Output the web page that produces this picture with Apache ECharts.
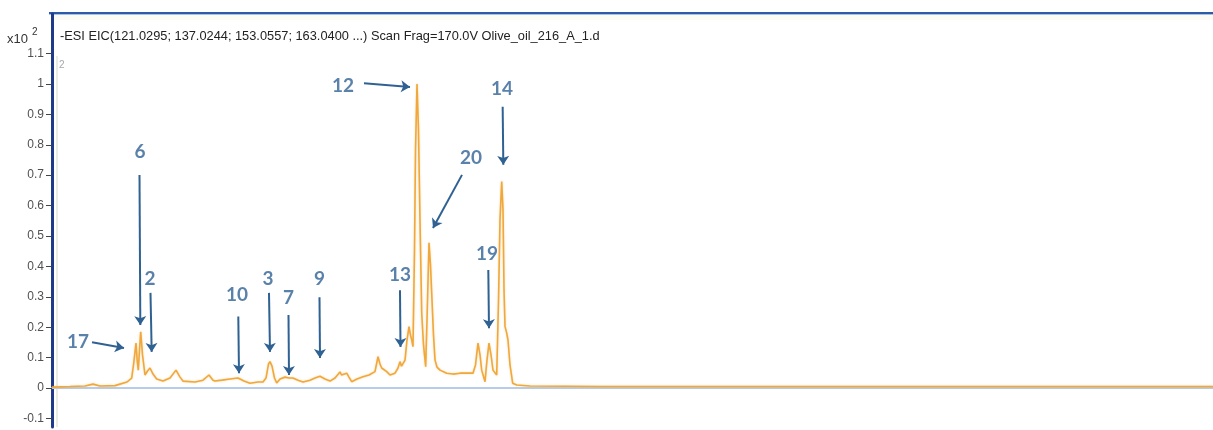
<!DOCTYPE html>
<html>
<head>
<meta charset="utf-8">
<title>EIC Olive_oil_216_A_1</title>
<script src="https://cdn.jsdelivr.net/npm/echarts@6/dist/echarts.min.js"></script>
<style>
  html, body { margin: 0; padding: 0; background: #ffffff; }
  #chart { width: 1213px; height: 430px; }
</style>
</head>
<body>
<div id="chart"></div>
<script>
// Extracted ion chromatogram: acquisition time (min) and counts (x10^2)
const rtMin = [
  0.000, 0.465, 0.853, 1.059, 1.240, 1.628, 1.938, 2.059, 2.106, 2.171,
  2.204, 2.230, 2.261, 2.292, 2.339, 2.403, 2.468, 2.532, 2.610, 2.705,
  2.868, 3.049, 3.204, 3.308, 3.385, 3.695, 3.902, 4.057, 4.160, 4.212,
  4.393, 4.600, 4.806, 4.961, 5.116, 5.323, 5.452, 5.530, 5.594, 5.633,
  5.685, 5.749, 5.806, 5.892, 6.021, 6.124, 6.227, 6.357, 6.486, 6.667,
  6.796, 6.925, 7.054, 7.184, 7.313, 7.442, 7.481, 7.519, 7.615, 7.674,
  7.744, 7.881, 8.036, 8.191, 8.346, 8.424, 8.476, 8.519, 8.649, 8.734,
  8.863, 8.941, 8.992, 9.031, 9.070, 9.122, 9.173, 9.225, 9.264, 9.295,
  9.328, 9.367, 9.393, 9.432, 9.470, 9.509, 9.553, 9.600, 9.656, 9.690,
  9.742, 9.780, 9.811, 9.858, 9.897, 9.948, 10.026, 10.199, 10.362, 10.543,
  10.724, 10.879, 10.943, 11.008, 11.060, 11.103, 11.189, 11.240, 11.292, 11.344,
  11.395, 11.491, 11.538, 11.576, 11.620, 11.654, 11.680, 11.706, 11.744, 11.783,
  11.835, 11.904, 12.008, 12.352, 14.160, 19.328, 24.496, 30.000
];
const intensity = [
  0.003, 0.005, 0.007, 0.013, 0.007, 0.008, 0.020, 0.033, 0.076, 0.148,
  0.086, 0.059, 0.125, 0.185, 0.109, 0.043, 0.056, 0.066, 0.046, 0.030,
  0.023, 0.033, 0.059, 0.036, 0.023, 0.020, 0.026, 0.043, 0.026, 0.023,
  0.026, 0.030, 0.033, 0.023, 0.016, 0.020, 0.020, 0.033, 0.079, 0.087,
  0.072, 0.033, 0.017, 0.030, 0.036, 0.033, 0.033, 0.026, 0.020, 0.026,
  0.033, 0.039, 0.030, 0.023, 0.033, 0.053, 0.043, 0.037, 0.049, 0.036,
  0.021, 0.030, 0.037, 0.043, 0.054, 0.103, 0.079, 0.066, 0.054, 0.043,
  0.049, 0.066, 0.087, 0.072, 0.066, 0.092, 0.158, 0.202, 0.174, 0.158,
  0.136, 0.454, 0.783, 1.000, 0.849, 0.553, 0.247, 0.141, 0.070, 0.224,
  0.478, 0.405, 0.313, 0.174, 0.092, 0.069, 0.059, 0.049, 0.046, 0.049,
  0.049, 0.049, 0.076, 0.148, 0.109, 0.059, 0.021, 0.092, 0.148, 0.109,
  0.059, 0.043, 0.289, 0.553, 0.679, 0.586, 0.322, 0.202, 0.184, 0.158,
  0.076, 0.016, 0.010, 0.007, 0.005, 0.005, 0.005, 0.005
];

// Y tick labels (x10^2)
const yTicks = [-0.1, 0, 0.1, 0.2, 0.3, 0.4, 0.5, 0.6, 0.7, 0.8, 0.9, 1, 1.1];

// Compound numbers, where each number sits and where its arrow runs (time, counts)
const peakIds   = ['17', '6', '2', '10', '3', '7', '9', '13', '12', '20', '19', '14'];
const labelAt   = [[0.672, 0.151], [2.274, 0.776], [2.532, 0.359], [4.780, 0.306],
                   [5.581, 0.359], [6.111, 0.296], [6.912, 0.359], [8.992, 0.372],
                   [7.519, 0.993], [10.827, 0.757], [11.240, 0.441], [11.628, 0.984]];
const arrowFrom = [[1.034, 0.151], [2.261, 0.701], [2.545, 0.313], [4.814, 0.235],
                   [5.607, 0.313], [6.111, 0.240], [6.912, 0.299], [8.992, 0.322],
                   [8.062, 1.002], [10.594, 0.701], [11.274, 0.388], [11.645, 0.925]];
const arrowTo   = [[1.860, 0.132], [2.282, 0.207], [2.576, 0.119], [4.832, 0.049],
                   [5.633, 0.119], [6.124, 0.043], [6.925, 0.099], [9.005, 0.135],
                   [9.251, 0.990], [9.845, 0.526], [11.292, 0.197], [11.662, 0.734]];

const traceTitle = '-ESI EIC(121.0295; 137.0244; 153.0557; 163.0400 ...) Scan Frag=170.0V Olive_oil_216_A_1.d';

const annotBlue = '#2f6193';
const traceData = rtMin.map((t, i) => [t, intensity[i]]);

const chart = echarts.init(document.getElementById('chart'), null, { renderer: 'canvas' });

chart.setOption({
  animation: false,
  backgroundColor: '#ffffff',
  grid: { left: 52, right: 0, top: 14, bottom: 3, containLabel: false },
  xAxis: {
    type: 'value',
    min: 0,
    max: 30,
    axisLine: { show: true, lineStyle: { color: '#b7cce8', width: 2 } },
    axisTick: { show: false },
    axisLabel: { show: false },
    splitLine: { show: false }
  },
  yAxis: {
    type: 'value',
    min: -0.128,
    max: 1.230,
    axisLine: { show: true, onZero: false, lineStyle: { color: '#1f3a88', width: 3 } },
    axisTick: { show: true, length: 6, customValues: yTicks, lineStyle: { color: '#444', width: 1 } },
    axisLabel: {
      show: true,
      customValues: yTicks,
      margin: 8,
      color: '#505050',
      fontFamily: 'Liberation Sans, Arial, sans-serif',
      fontSize: 12
    },
    splitLine: { show: false }
  },
  graphic: [
    // frame: top border with a soft inner edge
    { type: 'rect', silent: true, shape: { x: 49, y: 12, width: 1164, height: 2 }, style: { fill: '#2c5aa6' } },
    { type: 'rect', silent: true, shape: { x: 49, y: 14, width: 1164, height: 1 }, style: { fill: '#a9c1e6' } },
    { type: 'rect', silent: true, shape: { x: 54, y: 15, width: 1159, height: 5 }, style: { fill: '#fbfbf3' } },
    // light inner frame line right of the axis
    { type: 'line', silent: true, shape: { x1: 57, y1: 56, x2: 57, y2: 427 }, style: { stroke: '#d3dbcd', lineWidth: 1 } },
    // scale factor
    { type: 'text', silent: true, left: 7, top: 33, style: { text: 'x10', font: '13px "Liberation Sans", Arial, sans-serif', fill: '#333' } },
    { type: 'text', silent: true, left: 32, top: 27, style: { text: '2', font: '10px "Liberation Sans", Arial, sans-serif', fill: '#333' } },
    // trace title
    { type: 'text', silent: true, left: 60, top: 30, style: { text: traceTitle, font: '12.8px "Liberation Sans", Arial, sans-serif', fill: '#222' } },
    // small marker next to the axis
    { type: 'text', silent: true, left: 59, top: 60, style: { text: '2', font: '10px "Liberation Sans", Arial, sans-serif', fill: '#a8a8a8' } }
  ],
  series: [
    {
      name: 'EIC',
      type: 'line',
      data: traceData,
      showSymbol: false,
      smooth: false,
      silent: true,
      lineStyle: { color: '#f0a83c', width: 1.6, shadowBlur: 2, shadowColor: 'rgba(240,170,60,0.45)' },
      z: 2,
      markLine: {
        silent: true,
        symbol: ['none', 'arrow'],
        symbolSize: 9,
        label: { show: false },
        lineStyle: { color: annotBlue, width: 2, type: 'solid' },
        data: arrowFrom.map((p, i) => [{ coord: p }, { coord: arrowTo[i] }])
      }
    },
    {
      name: 'peak numbers',
      type: 'scatter',
      silent: true,
      symbolSize: 1,
      itemStyle: { color: 'rgba(0,0,0,0)' },
      z: 5,
      data: labelAt.map((p, i) => ({ value: p, name: peakIds[i] })),
      label: {
        show: true,
        position: 'inside',
        formatter: (p) => p.name,
        color: annotBlue,
        fontFamily: 'Lato, "Open Sans", sans-serif',
        fontWeight: 'bold',
        fontSize: 19
      }
    }
  ]
});
</script>
</body>
</html>
